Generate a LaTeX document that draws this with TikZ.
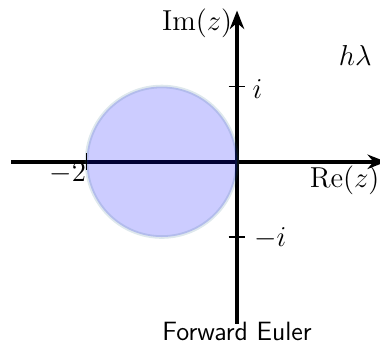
\documentclass[tikz,border=0pt]{standalone}
\usepackage{amsmath}
\usetikzlibrary{arrows.meta}
\definecolor{StabBlue}{RGB}{0,0,255}
\definecolor{StabEdge}{RGB}{50,110,140}

\begin{document}
\begin{tikzpicture}[x=1.1cm,y=1.1cm,
    every node/.style={font=\fontsize{11.5}{14}\selectfont},
    axis/.style={-{Stealth[length=2.7mm,width=2.1mm]},ultra thick},
    tickmark/.style={thick}]
  \useasboundingbox (-3.15,-2.45) rectangle (1.9,2.15);
  % axes
  \coordinate (xmin) at (-3,0);
  \coordinate (xmax) at (1.98,0);
  \coordinate (ymin) at (0,-2.15);
  \coordinate (ymax) at (0,2.01);
  \draw[axis] (xmin) -- (xmax);
  \draw[axis] (ymin) -- (ymax);
  % stability region
  \filldraw[fill=StabBlue,draw=StabEdge,fill opacity=0.2,draw opacity=0.16,line width=1.5pt] (-1,0) circle[radius=1];
  % ticks
  \draw[tickmark] (-2,-0.11) -- (-2,0.11);
  \draw[tickmark] (-0.11,1) -- (0.11,1);
  \draw[tickmark] (-0.11,-1) -- (0.11,-1);
  % labels
  \node (imlabel) at (-0.53,1.84) {$\mathrm{Im}(z)$};
  \node (relabel) at (1.43,-0.25) {$\mathrm{Re}(z)$};
  \node (mtwo) at (-2.25,-0.15) {$-2$};
  \node (plusi) at (0.27,0.97) {$i$};
  \node (minusi) at (0.44,-1.01) {$-i$};
  \node (hlam) at (1.57,1.41) {$h\lambda$};
  \node[font=\fontsize{11}{13}\sffamily] (title) at (0,-2.25) {Forward Euler};
\end{tikzpicture}
\end{document}
